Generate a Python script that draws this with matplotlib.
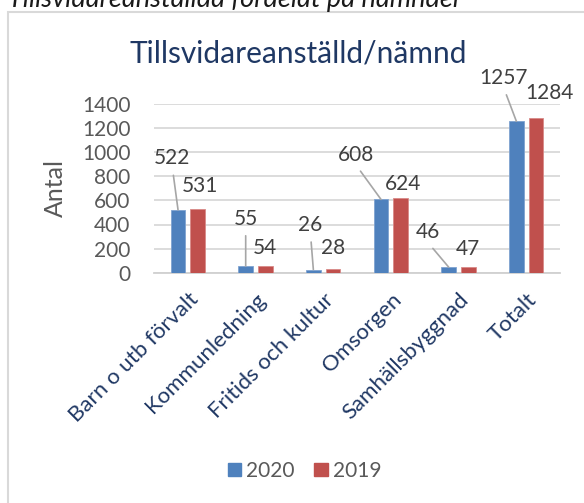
import matplotlib
matplotlib.use("Agg")
import matplotlib.pyplot as plt
from matplotlib.patches import Rectangle, Patch

plt.rcParams['font.family'] = ['Lato', 'DejaVu Sans']

# data
categories = ["Barn o utb förvalt", "Kommunledning", "Fritids och kultur",
              "Omsorgen", "Samhällsbyggnad", "Totalt"]
v2020 = [522, 55, 26, 608, 46, 1257]
v2019 = [531, 54, 28, 624, 47, 1284]
series = ["2020", "2019"]

# label offsets in points (dx, dy) from bar top
off2020 = [(-4, 37), (0, 34), (-2, 32), (-18, 32), (-15, 25), (-9, 31)]
off2019 = [(2, 16), (0, 13), (0, 15), (2, 10), (0, 13), (10, 18)]

blue = "#4F81BD"
red = "#C0504D"
W, H = 584, 503

fig = plt.figure(figsize=(W / 100, H / 100), dpi=100)
ax = fig.add_axes([154 / W, 1 - 272.7 / H, (560 - 154) / W, (272.7 - 104) / H])

x = list(range(len(categories)))
bw = 0.22
sh = 0.145
ax.bar([i - sh for i in x], v2020, bw, color=blue, edgecolor="#7FA3D1", lw=0.6, zorder=3)
ax.bar([i + sh for i in x], v2019, bw, color=red, edgecolor="#D88A88", lw=0.6, zorder=3)

ax.set_xlim(-0.5, len(categories) - 0.5)
ax.set_ylim(0, 1400)
ax.set_yticks(range(0, 1401, 200))
ax.grid(axis="y", color="#D9D9D9", lw=1.3, zorder=0)
ax.set_axisbelow(True)
for s in ["top", "right", "left"]:
    ax.spines[s].set_visible(False)
ax.spines["bottom"].set_color("#D0D0D0")
ax.spines["bottom"].set_linewidth(1.3)
ax.tick_params(axis="y", length=0, pad=17, labelsize=15, labelcolor="#595959")
ax.tick_params(axis="x", length=0, pad=12)
ax.set_xticks(x)
ax.set_xticklabels(categories, rotation=45, ha="right", va="top",
                   rotation_mode="anchor", fontsize=16, color="#203864")
ax.set_ylabel("Antal", fontsize=18, color="#595959")
ax.yaxis.set_label_coords((66.7 - 154) / 406, 0.5)

for i in x:
    dx, dy = off2020[i]
    ax.annotate(str(v2020[i]), xy=(i - sh, v2020[i]), xytext=(dx, dy),
                textcoords="offset points", ha="center", va="center",
                fontsize=15, color="#404040", zorder=5,
                arrowprops=dict(arrowstyle="-", color="#A6A6A6", lw=1.2,
                                relpos=(0.5, 0), shrinkA=3, shrinkB=0))
    dx, dy = off2019[i]
    ax.annotate(str(v2019[i]), xy=(i + sh, v2019[i]), xytext=(dx, dy),
                textcoords="offset points", ha="center", va="center",
                fontsize=15, color="#404040", zorder=5)

fig.text(298 / W, 1 - 63 / H, "Tillsvidareanställd/nämnd", ha="center", va="baseline",
         fontsize=21.5, color="#1F3864")
fig.text(8 / W, 1 - 7 / H, "Tillsvidareanställda fördelat på nämnder", ha="left",
         va="baseline", fontsize=19.5, style="italic", color="#1a1a1a")

fig.patches.append(Rectangle((8 / W, -0.1), 1.2, (H - 12) / H + 0.1,
                             transform=fig.transFigure, fill=False,
                             edgecolor="#D9D9D9", lw=1.5))

handles = [Patch(color=blue), Patch(color=red)]
fig.legend(handles, series, loc="center", bbox_to_anchor=(304.5 / W, 1 - 471 / H),
           ncol=2, frameon=False, fontsize=15, handlelength=0.63, handleheight=0.63,
           handletextpad=0.25, columnspacing=0.95, labelcolor="#595959")

fig.savefig("out.png", dpi=100)
